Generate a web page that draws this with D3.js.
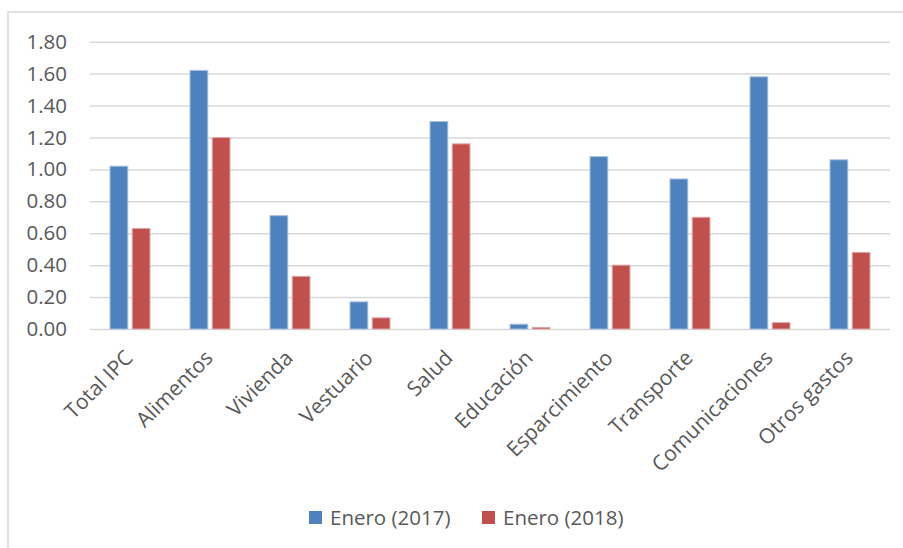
<!DOCTYPE html>
<html>
<head>
<meta charset="utf-8">
<script src="https://cdn.jsdelivr.net/npm/d3@7"></script>
<style>
  html, body { margin: 0; padding: 0; background: #fff; }
  svg { display: block; }
  text { font-family: "Open Sans", sans-serif; fill: #595959; }
</style>
</head>
<body>
<svg id="chart" width="903" height="548"></svg>
<script>
const categories = ["Total IPC", "Alimentos", "Vivienda", "Vestuario", "Salud", "Educación", "Esparcimiento", "Transporte", "Comunicaciones", "Otros gastos"];
const seriesNames = ["Enero (2017)", "Enero (2018)"];
const enero2017 = [1.02, 1.62, 0.71, 0.17, 1.30, 0.03, 1.08, 0.94, 1.58, 1.06];
const enero2018 = [0.63, 1.20, 0.33, 0.07, 1.16, 0.01, 0.40, 0.70, 0.04, 0.48];
const yTicks = [0, 0.2, 0.4, 0.6, 0.8, 1.0, 1.2, 1.4, 1.6, 1.8];
const colors = ["#4F81BD", "#C0504D"];
const strokes = ["#A7BFDF", "#E0A8A6"];

const svg = d3.select("#chart");
const W = 903, H = 548;
const plot = { left: 90, right: 890, top: 41.7, bottom: 329 };

// outer chart border
svg.append("rect")
  .attr("x", 8).attr("y", 12)
  .attr("width", W + 20).attr("height", H + 20)
  .attr("fill", "#fff").attr("stroke", "#D9D9D9").attr("stroke-width", 1.5);

const y = d3.scaleLinear().domain([0, 1.8]).range([plot.bottom, plot.top]);
const x0 = d3.scaleBand().domain(categories).range([plot.left, plot.right])
  .paddingInner(0.5).paddingOuter(0.25);
const x1 = d3.scaleBand().domain(seriesNames).range([0, x0.bandwidth()]).paddingInner(0.2);
const xOuter = d3.scaleBand().domain(categories).range([plot.left, plot.right]);

// gridlines via axis
const yAxis = d3.axisLeft(y).tickValues(yTicks)
  .tickSize(-(plot.right - plot.left)).tickPadding(23)
  .tickFormat(d3.format(".2f"));
const gy = svg.append("g").attr("transform", `translate(${plot.left},0)`).call(yAxis);
gy.select(".domain").remove();
gy.selectAll(".tick line").attr("stroke", "#D9D9D9").attr("stroke-width", 1.5);
gy.selectAll(".tick text").attr("font-size", 20.5).attr("fill", "#595959")
  .style("font-family", "'Open Sans', sans-serif");

// bars
const data = categories.map((c, i) => ({ cat: c, vals: [enero2017[i], enero2018[i]] }));
const groups = svg.append("g").selectAll("g").data(data).join("g")
  .attr("transform", d => `translate(${x0(d.cat)},0)`);
groups.selectAll("rect")
  .data(d => d.vals.map((v, k) => ({ v, k })))
  .join("rect")
  .attr("x", d => x1(seriesNames[d.k]))
  .attr("width", x1.bandwidth())
  .attr("y", d => y(d.v))
  .attr("height", d => y(0) - y(d.v))
  .attr("fill", d => colors[d.k])
  .attr("stroke", d => strokes[d.k])
  .attr("stroke-width", 1);

// x axis labels
const xAxis = d3.axisBottom(xOuter).tickSize(0).tickPadding(0);
const gx = svg.append("g").attr("transform", `translate(0,${plot.bottom})`).call(xAxis);
gx.select(".domain").remove();
gx.selectAll(".tick text")
  .attr("font-size", 21)
  .attr("fill", "#595959")
  .style("font-family", "'Open Sans', sans-serif")
  .attr("text-anchor", "end")
  .attr("dy", "0.35em")
  .attr("y", 0)
  .attr("transform", "translate(-1,25) rotate(-45)");

// legend
const legend = svg.append("g");
const legX = [309, 482];
seriesNames.forEach((s, k) => {
  const g = legend.append("g").attr("transform", `translate(${legX[k]},511)`);
  g.append("rect").attr("width", 13).attr("height", 13).attr("fill", colors[k]);
  g.append("text").attr("x", 21).attr("y", 6.5).attr("dy", "0.35em")
    .attr("font-size", 20.5).text(s);
});
</script>
</body>
</html>
